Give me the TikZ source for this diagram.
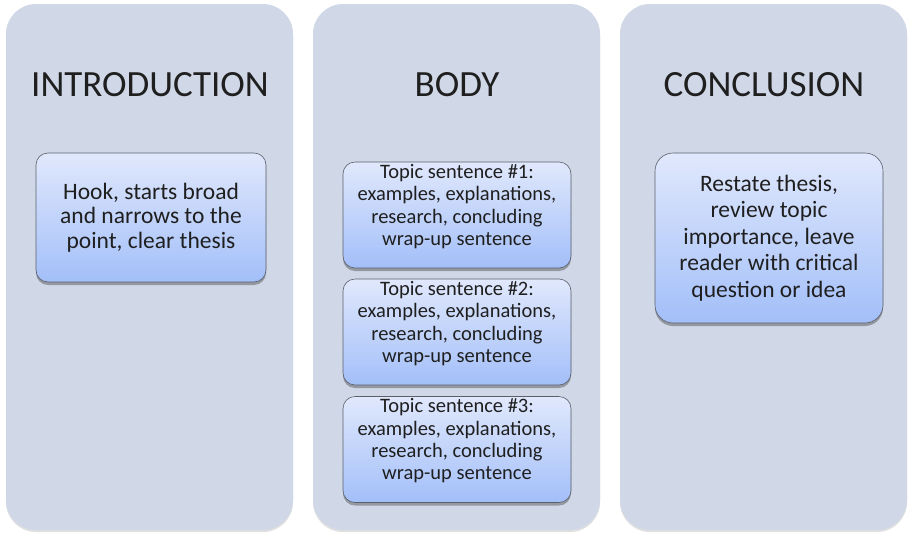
\documentclass[tikz,border=0pt]{standalone}
\usepackage{fontspec}
\setmainfont{Carlito}
\usepackage{xcolor}
\usetikzlibrary{shadows, positioning}

\definecolor{panelgray}{HTML}{D0D8E8}
\definecolor{boxtop}{HTML}{E0E8FC}
\definecolor{boxbot}{HTML}{A3BFF9}
\definecolor{boxline}{HTML}{5A5F6A}

\begin{document}
\begin{tikzpicture}[x=1pt, y=-1pt, every node/.style={font=\fontsize{23.5}{24.5}\selectfont, align=center, inner sep=0pt, text=black!88},
    panel/.style={fill=panelgray, rounded corners=30pt, minimum width=287pt, minimum height=526pt,
      drop shadow={shadow xshift=0pt, shadow yshift=-2pt, opacity=0.25, fill=gray}},
    heading/.style={font=\fontsize{37}{40}\selectfont},
    textbox/.style={draw=boxline, line width=0.6pt, rounded corners=12pt, top color=boxtop, bottom color=boxbot,
      drop shadow={shadow xshift=0pt, shadow yshift=-3pt, opacity=0.45, fill=black!70}},
    topicbox/.style={textbox, minimum width=228pt, minimum height=106pt, font=\fontsize{20.5}{22.3}\selectfont}]
    % page
    \useasboundingbox (0,0) rectangle (914,539);
    \fill[white] (0,0) rectangle (914,539);
    % three columns
    \node[panel] (intro) at (149.5,267) {};
    \node[panel] (body) at (456.5,267) {};
    \node[panel] (concl) at (763.5,267) {};
    \node[heading] (introtitle) at (150,85) {INTRODUCTION};
    \node[heading] (bodytitle) at (457,85) {BODY};
    \node[heading] (concltitle) at (764,85) {CONCLUSION};
    % introduction
    \node[textbox, minimum width=230pt, minimum height=129pt] (hook) at (151,217.5)
      {Hook, starts broad\\and narrows to the\\point, clear thesis};
    % body paragraphs (text sits a little high in each box)
    \node[topicbox] (topic1) at (457,215)
      {Topic sentence \#1:\\examples, explanations,\\research, concluding\\wrap-up sentence\\[-2pt]\mbox{}};
    \node[topicbox] (topic2) at (457,332)
      {Topic sentence \#2:\\examples, explanations,\\research, concluding\\wrap-up sentence\\[-2pt]\mbox{}};
    \node[topicbox] (topic3) at (457,449.5)
      {Topic sentence \#3:\\examples, explanations,\\research, concluding\\wrap-up sentence\\[-2pt]\mbox{}};
    % conclusion
    \node[textbox, rounded corners=18pt, minimum width=228pt, minimum height=170pt,
      font=\fontsize{23.5}{26.5}\selectfont] (restate) at (769,238)
      {Restate thesis,\\review topic\\importance, leave\\reader with critical\\question or idea};
\end{tikzpicture}
\end{document}
